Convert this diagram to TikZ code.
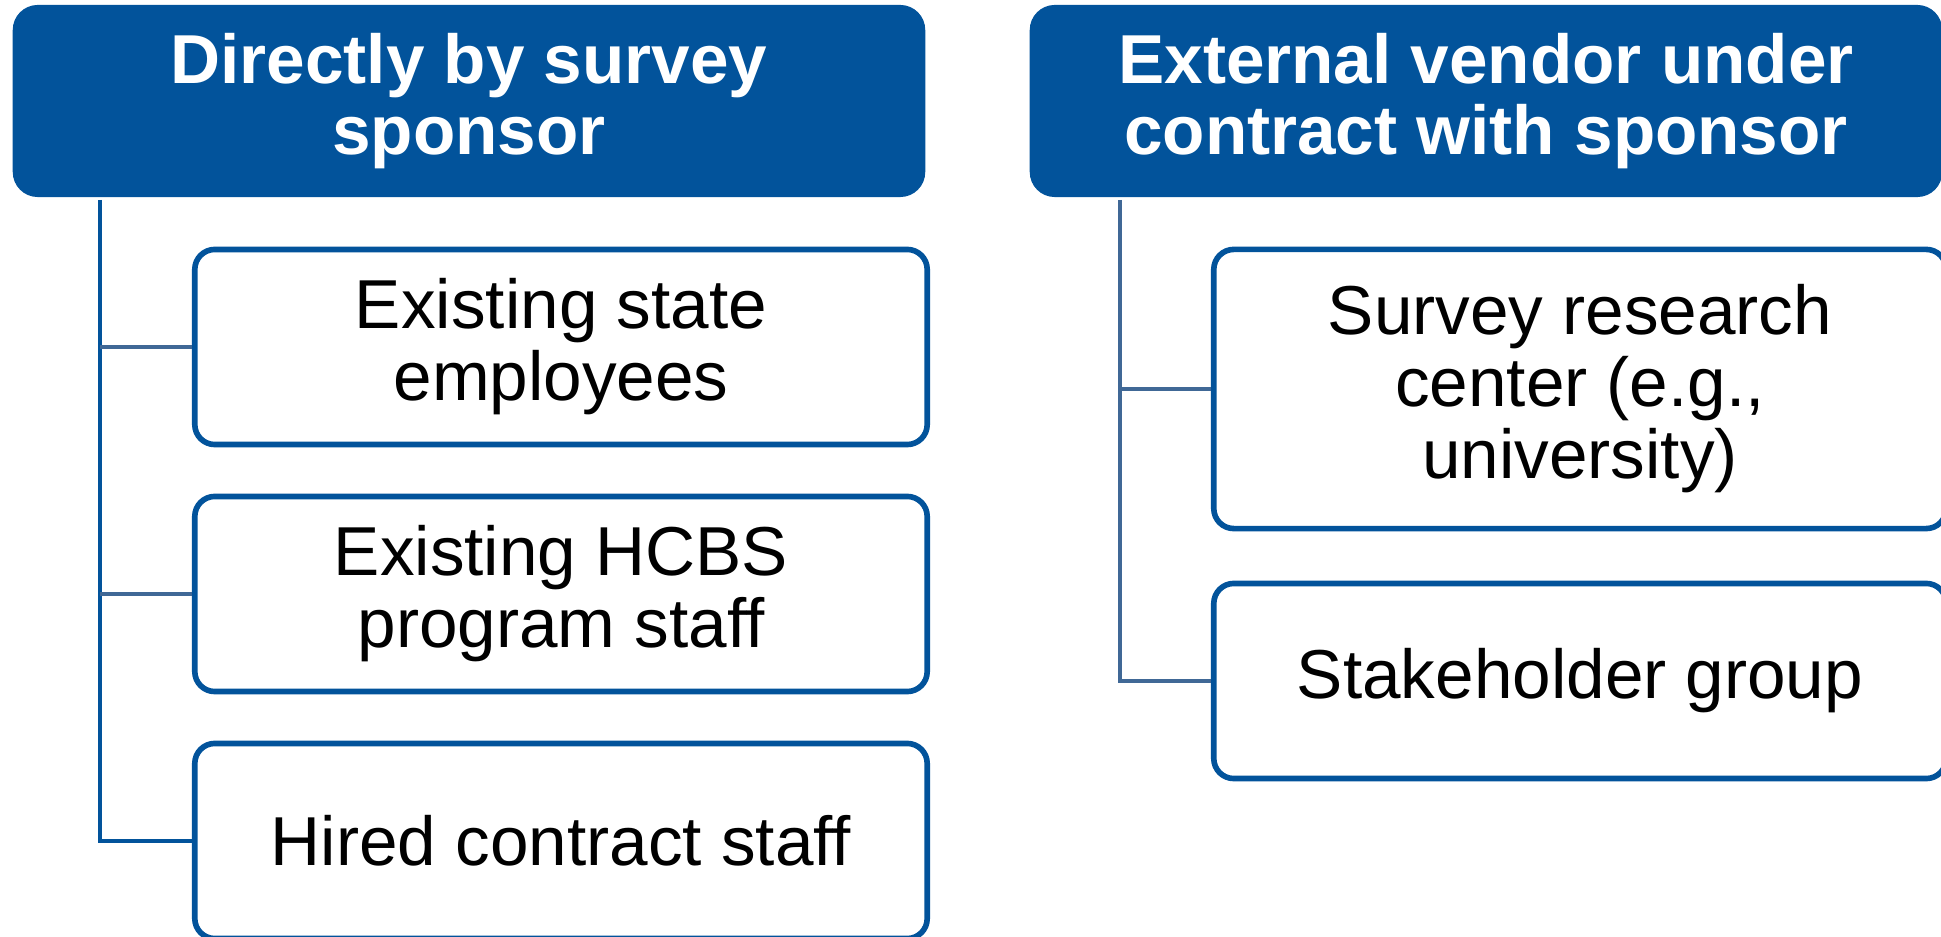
\documentclass[tikz,border=0pt]{standalone}
\usepackage{fontspec}
\setmainfont{Liberation Sans}
\usetikzlibrary{calc}
\definecolor{sponsorblue}{RGB}{2,83,155}
\definecolor{linkblue}{RGB}{64,104,150}

\begin{document}
\begin{tikzpicture}[x=0.01cm,y=-0.01cm,
head/.style={fill=sponsorblue,text=white,rounded corners=0.25cm,minimum width=9.12cm,minimum height=1.92cm,align=center,font=\fontsize{19.7}{20.3}\selectfont\bfseries},
staffbox/.style={draw=sponsorblue,line width=1.6pt,fill=white,rounded corners=0.2cm,minimum width=7.32cm,minimum height=1.95cm,align=center,font=\fontsize{19.7}{20.5}\selectfont},
trunk/.style={draw=sponsorblue,line width=1.4pt},
branch/.style={draw=linkblue,line width=1.4pt}]
\useasboundingbox (0,0) rectangle (1941,937);
\node[head] (D) at (469,101) {Directly by survey\\sponsor};
\node[head] (X) at (1486,101) {External vendor under\\contract with sponsor};
\coordinate (P) at (100,200);
\coordinate (Q) at (1120,200);
\node[staffbox] (S) at (561,347) {Existing state\\employees};
\node[staffbox] (H) at (561,594) {Existing HCBS\\program staff};
\node[staffbox] (C) at (561,841) {Hired contract staff};
\node[staffbox,minimum height=2.79cm] (R) at (1580,389) {Survey research\\center (e.g.,\\university)};
\node[staffbox] (G) at (1580,681) {Stakeholder group};
\draw[trunk] (P) |- (C.west);
\draw[branch] (P |- S.west) -- (S.west);
\draw[branch] (P |- H.west) -- (H.west);
\draw[branch] (Q) |- (G.west);
\draw[branch] (Q |- R.west) -- (R.west);
\end{tikzpicture}
\end{document}
